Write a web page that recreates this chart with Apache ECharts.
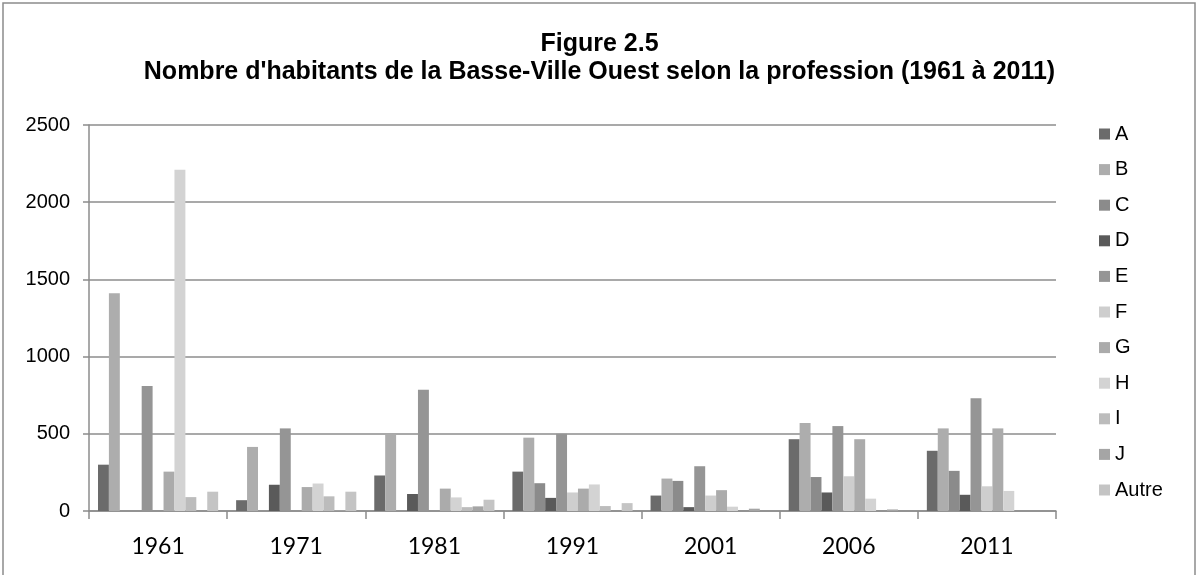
<!DOCTYPE html>
<html>
<head>
<meta charset="utf-8">
<script src="https://cdn.jsdelivr.net/npm/echarts@6/dist/echarts.min.js"></script>
<style>
	html, body { margin: 0; padding: 0; background: #fff; }
	#chart { width: 1199px; height: 575px; }
</style>
</head>
<body>
<div id="chart"></div>
<script>
	var years = ['1961', '1971', '1981', '1991', '2001', '2006', '2011'];
	var yTicks = [0, 500, 1000, 1500, 2000, 2500];

	var A = [300, 70, 230, 255, 100, 465, 390];
	var B = [1410, 415, 495, 475, 210, 570, 535];
	var C = [0, 0, 0, 180, 195, 220, 260];
	var D = [0, 170, 110, 85, 25, 120, 105];
	var E = [810, 535, 785, 500, 290, 550, 730];
	var F = [0, 0, 0, 120, 100, 225, 160];
	var G = [255, 155, 145, 145, 135, 465, 535];
	var H = [2210, 178, 88, 172, 28, 80, 130];
	var I = [90, 95, 25, 32, 0, 0, 0];
	var J = [0, 5, 30, 0, 15, 10, 0];
	var Autre = [125, 125, 73, 51, 0, 0, 0];

	var names = ['A', 'B', 'C', 'D', 'E', 'F', 'G', 'H', 'I', 'J', 'Autre'];
	var values = [A, B, C, D, E, F, G, H, I, J, Autre];
	var colors = ['#6b6b6b', '#adadad', '#8b8b8b', '#5a5a5a', '#959595', '#cecece',
		'#ababab', '#d3d3d3', '#bcbcbc', '#a5a5a5', '#c4c4c4'];

	var chart = echarts.init(document.getElementById('chart'));

	var series = [];
	for (var i = 0; i < names.length; i++) {
		series.push({
			name: names[i],
			type: 'bar',
			data: values[i],
			barGap: '0%',
			barCategoryGap: '13%',
			itemStyle: { color: colors[i] },
			animation: false
		});
	}

	var option = {
		backgroundColor: '#fff',
		color: colors,
		title: {
			text: 'Figure 2.5\nNombre d\'habitants de la Basse-Ville Ouest selon la profession (1961 à 2011)',
			left: 'center',
			top: 30,
			padding: 0,
			textStyle: {
				fontFamily: 'Liberation Sans',
				fontWeight: 'bold',
				fontSize: 25,
				lineHeight: 28,
				color: '#000'
			}
		},
		graphic: [{
			type: 'rect',
			shape: { x: 3, y: 3, width: 1192, height: 620 },
			style: { fill: 'none', stroke: '#8c8c8c', lineWidth: 1.5 },
			silent: true
		}],
		legend: {
			orient: 'vertical',
			left: 1099,
			top: 124,
			padding: 0,
			itemWidth: 11,
			itemHeight: 11,
			itemGap: 15.6,
			icon: 'rect',
			data: names,
			textStyle: {
				fontFamily: 'Liberation Sans',
				fontSize: 20,
				lineHeight: 20,
				color: '#000'
			}
		},
		grid: {
			left: 89,
			right: 143,
			top: 125,
			bottom: 64,
			containLabel: false
		},
		xAxis: {
			type: 'category',
			data: years,
			axisLine: { lineStyle: { color: '#8c8c8c', width: 1.5 } },
			axisTick: { show: true, length: 8, lineStyle: { color: '#8c8c8c', width: 1.5 } },
			axisLabel: {
				margin: 24,
				fontFamily: 'Lato',
				fontSize: 23,
				color: '#000'
			}
		},
		yAxis: {
			type: 'value',
			min: yTicks[0],
			max: yTicks[yTicks.length - 1],
			interval: 500,
			axisLine: { show: true, lineStyle: { color: '#8c8c8c', width: 1.5 } },
			axisTick: { show: true, length: 6, lineStyle: { color: '#8c8c8c', width: 1.5 } },
			splitLine: { lineStyle: { color: '#8c8c8c', width: 1.5 } },
			axisLabel: {
				margin: 19,
				fontFamily: 'Liberation Sans',
				fontSize: 20,
				color: '#000',
				formatter: function (v) { return String(v); }
			}
		},
		series: series
	};

	chart.setOption(option);
	window.addEventListener('resize', function () {
		chart.resize();
	});
</script>
</body>
</html>
